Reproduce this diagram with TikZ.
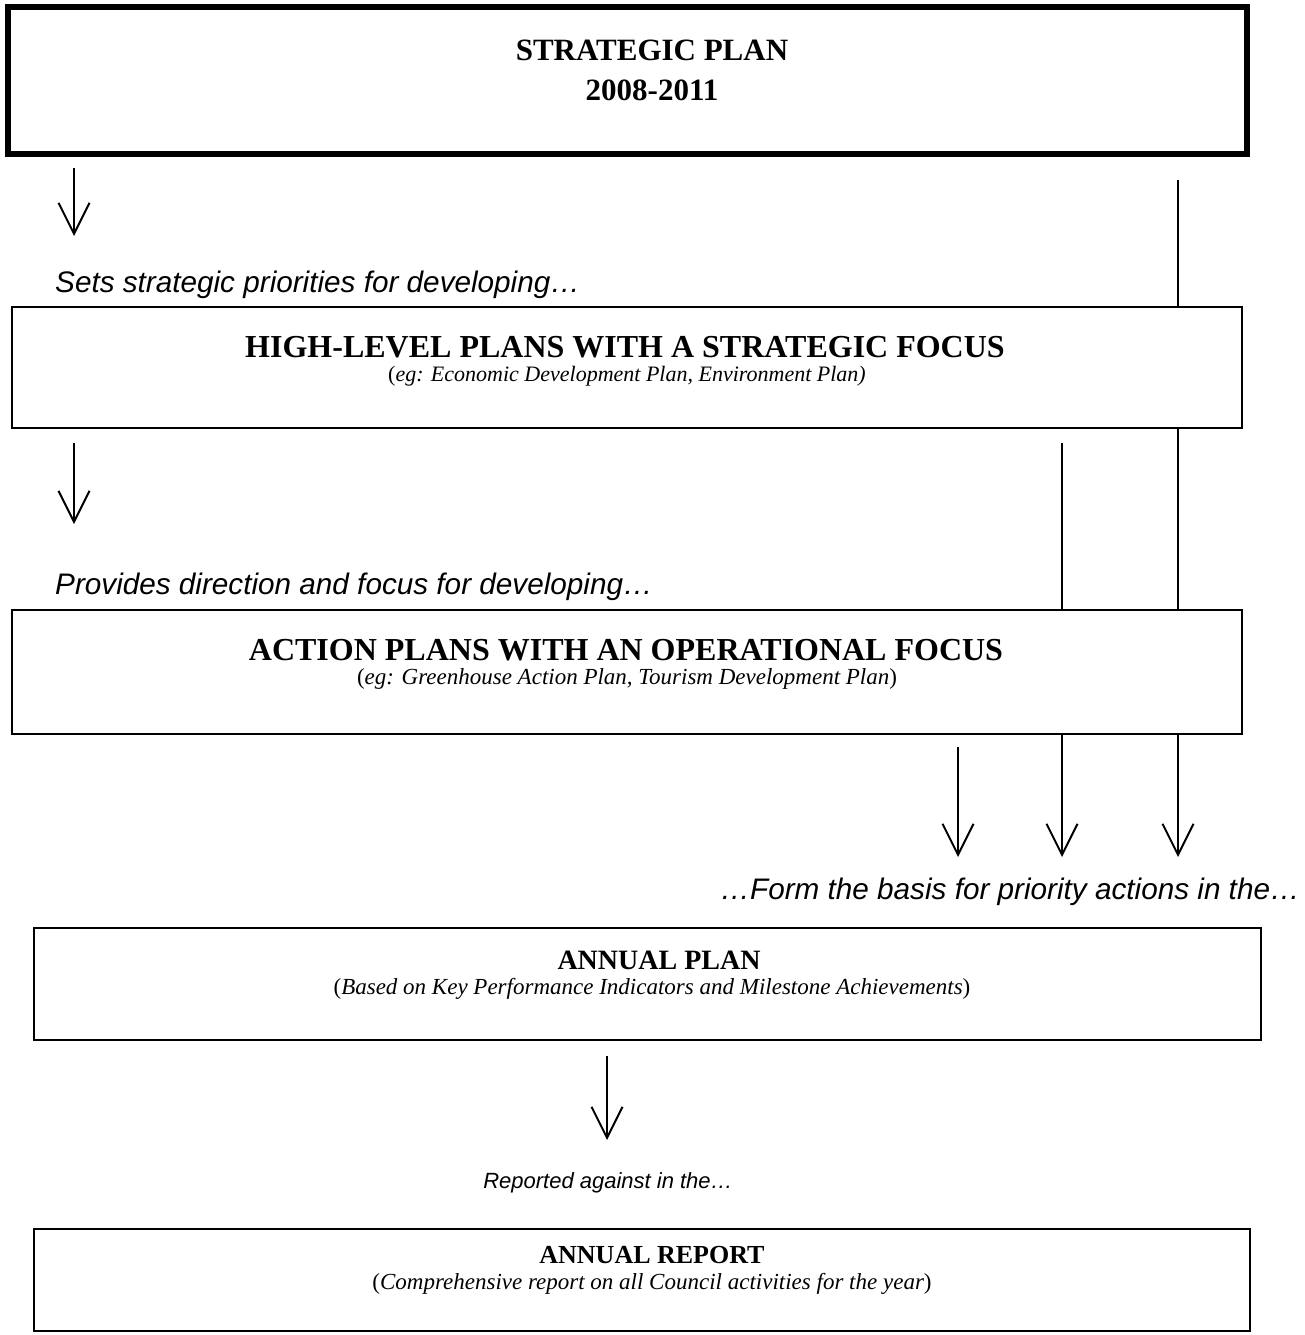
\documentclass[tikz,border=0pt]{standalone}
\usepackage{fontspec}
\setmainfont{Liberation Serif}
\newfontfamily\lsans{Liberation Sans}
\usetikzlibrary{arrows.meta,calc}
\begin{document}
\begin{tikzpicture}[x=1pt,y=-1pt,
  box/.style={draw, fill=white, line width=2.5pt, rectangle, inner sep=0pt},
  topbox/.style={box, line width=6pt},
  head/.style={font=\bfseries\fontsize{32}{36}\selectfont, inner sep=0pt},
  titletext/.style={font=\bfseries\fontsize{31}{40}\selectfont, inner sep=0pt, align=center},
  sub/.style={font=\itshape\fontsize{23}{27}\selectfont, inner sep=0pt},
  lab/.style={font=\lsans\itshape\fontsize{29.7}{33}\selectfont, inner sep=0pt},
  conn/.style={line width=2pt},
  arr/.style={conn, -{Straight Barb[length=31pt,width=31pt]}}
]
\useasboundingbox (0,0) rectangle (1304,1335);

% coordinates for free connector ends
\coordinate (r0) at (1178,180);
\coordinate (m0) at (1062,443);
\coordinate (c0) at (958,747);
\coordinate (tipr) at (1178,857);
\coordinate (tipm) at (1062,857);
\coordinate (tipc) at (958,857);
\coordinate (a1s) at (74,168);
\coordinate (a1e) at (74,236);
\coordinate (a2s) at (74,443);
\coordinate (a2e) at (74,524);
\coordinate (a3s) at (607,1056);
\coordinate (a3e) at (607,1140);

% long vertical lines behind boxes
\draw[conn] (r0) -- (1178,610);
\draw[conn] (m0) -- (1062,610);

% boxes
\node[topbox, minimum width=1239pt, minimum height=147pt] (b1) at (627.5,80.5) {};
\node[titletext] (t1) at (652,70) {STRATEGIC PLAN\\2008-2011};

\node[box, minimum width=1230pt, minimum height=121pt] (b2) at (627,367.5) {};
\node[head] (h2) at (625,347) {HIGH-LEVEL PLANS WITH A STRATEGIC FOCUS};
\node[sub, font=\itshape\fontsize{22}{26}\selectfont] (s2) at (627,376) {\upshape(\itshape eg: Economic Development Plan, Environment Plan)};

\node[box, minimum width=1230pt, minimum height=124pt] (b3) at (627,672) {};
\node[head] (h3) at (626,650) {ACTION PLANS WITH AN OPERATIONAL FOCUS};
\node[sub] (s3) at (627,679) {\upshape(\itshape eg: Greenhouse Action Plan, Tourism Development Plan\upshape)};

\node[box, minimum width=1227pt, minimum height=112pt] (b4) at (647.5,984) {};
\node[head, font=\bfseries\fontsize{28}{32}\selectfont] (h4) at (659,960) {ANNUAL PLAN};
\node[sub] (s4) at (652,989) {\upshape(\itshape Based on Key Performance Indicators and Milestone Achievements\upshape)};

\node[box, minimum width=1216pt, minimum height=102pt] (b5) at (642,1280) {};
\node[head, font=\bfseries\fontsize{26}{30}\selectfont] (h5) at (652,1255) {ANNUAL REPORT};
\node[sub] (s5) at (652,1284) {\upshape(\itshape Comprehensive report on all Council activities for the year\upshape)};

% labels
\node[lab, anchor=west] (l1) at (55,285) {Sets strategic priorities for developing…};
\node[lab, anchor=west] (l2) at (55,587) {Provides direction and focus for developing…};
\node[lab, anchor=east] (l3) at (1300,892) {…Form the basis for priority actions in the…};
\node[lab, font=\lsans\itshape\fontsize{22}{26}\selectfont] (l4) at (608,1183) {Reported against in the…};

% connectors
\draw[arr] (a1s) -- (a1e);
\draw[arr] (a2s) -- (a2e);
\draw[arr] (c0) -- (tipc);
\draw[arr] (b3.south -| tipm) -- (tipm);
\draw[arr] (b3.south -| tipr) -- (tipr);
\draw[arr] (a3s) -- (a3e);
\end{tikzpicture}
\end{document}
